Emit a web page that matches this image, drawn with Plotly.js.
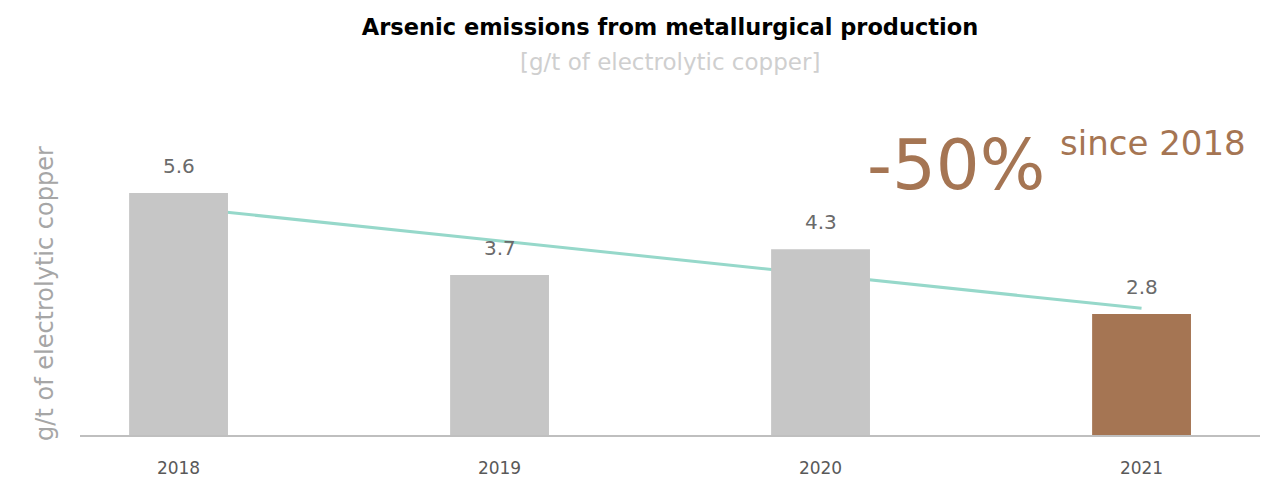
<!DOCTYPE html>
<html>
<head>
<meta charset="utf-8">
<script src="https://cdn.plot.ly/plotly-3.0.1.min.js"></script>
<style>html,body{margin:0;padding:0;background:#fff;}#chart{width:1278px;height:479px;}</style>
</head>
<body>
<div id="chart"></div>
<script>
var years = ['2018', '2019', '2020', '2021'];
var emissions = [5.6, 3.7, 4.3, 2.8];
var barColors = ['#C6C6C6', '#C6C6C6', '#C6C6C6', '#A57553'];
var trendYears = ['2018', '2021'];
var trendValues = [5.27, 2.93];
var labelTexts = ['5.6', '3.7', '4.3', '2.8'];

var FONT = 'DejaVu Sans, Open Sans, sans-serif';
var XRANGE = [-0.307, 3.369];
var YRANGE = [0, 7.75];

var traces = [
  {
    type: 'scatter', mode: 'lines', x: trendYears, y: trendValues,
    xaxis: 'x', yaxis: 'y',
    line: {color: '#96D8CA', width: 3}, hoverinfo: 'skip', showlegend: false
  },
  {
    type: 'bar', x: years, y: emissions, xaxis: 'x2', yaxis: 'y2',
    marker: {color: barColors, line: {width: 0}},
    hoverinfo: 'x+y', showlegend: false
  }
];

var annotations = years.map(function (yr, i) {
  return {
    x: i, y: emissions[i], xref: 'x', yref: 'y', text: labelTexts[i],
    showarrow: false, yanchor: 'middle', yshift: 27,
    font: {family: FONT, size: 20, color: '#6A6A6A'}
  };
});
annotations.push(
  {xref: 'paper', yref: 'paper', x: 0.5, y: 1.113, text: '[g/t of electrolytic copper]',
   showarrow: false, xanchor: 'center', yanchor: 'middle',
   font: {family: FONT, size: 23, color: '#CFCFCF'}},
  {xref: 'paper', yref: 'paper', x: -0.0297, y: 0.424, text: 'g/t of electrolytic copper',
   textangle: -90, showarrow: false, xanchor: 'center', yanchor: 'middle',
   font: {family: FONT, size: 24, color: '#A6A6A6'}},
  {xref: 'paper', yref: 'paper', x: 0.8195, y: 0.806, text: '-50%',
   showarrow: false, xanchor: 'right', yanchor: 'middle',
   font: {family: FONT, size: 69, color: '#A57553'}},
  {xref: 'paper', yref: 'paper', x: 0.829, y: 0.872, text: 'since 2018',
   showarrow: false, xanchor: 'left', yanchor: 'middle',
   font: {family: FONT, size: 34, color: '#A57553'}}
);

var layout = {
  width: 1278, height: 479,
  paper_bgcolor: '#FFFFFF', plot_bgcolor: '#FFFFFF',
  margin: {l: 80, r: 18, t: 100, b: 44},
  title: {
    text: '<b>Arsenic emissions from metallurgical production</b>',
    x: 0.5243, xanchor: 'center', y: 0.9436, yanchor: 'middle', yref: 'container',
    font: {family: FONT, size: 22.5, color: '#000000'}
  },
  bargap: 0.692,
  xaxis: {
    type: 'category', categoryorder: 'array', categoryarray: years,
    range: XRANGE,
    showline: true, linecolor: '#BFBFBF', linewidth: 2,
    showgrid: false, zeroline: false, ticks: '',
    ticklabelstandoff: 17,
    tickfont: {family: FONT, size: 17, color: '#595959'},
    fixedrange: true
  },
  yaxis: {
    range: YRANGE, showgrid: false, zeroline: false, showline: false,
    showticklabels: false, ticks: '', fixedrange: true
  },
  xaxis2: {
    type: 'category', categoryorder: 'array', categoryarray: years,
    range: XRANGE, overlaying: 'x', anchor: 'y2',
    showline: false, showgrid: false, zeroline: false, showticklabels: false, ticks: '',
    fixedrange: true
  },
  yaxis2: {
    range: YRANGE, overlaying: 'y', anchor: 'x2',
    showgrid: false, zeroline: false, showline: false,
    showticklabels: false, ticks: '', fixedrange: true
  },
  annotations: annotations
};

Plotly.newPlot('chart', traces, layout, {displayModeBar: false, staticPlot: true});
</script>
</body>
</html>
